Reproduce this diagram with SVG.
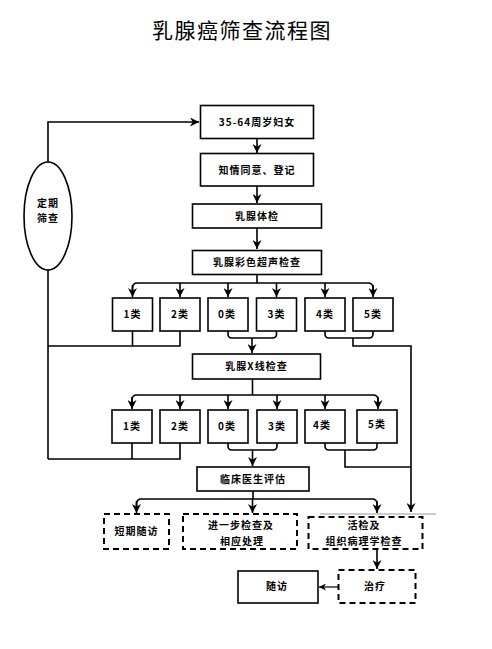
<svg xmlns="http://www.w3.org/2000/svg" width="492" height="649" viewBox="0 0 492 649">
<style>
.box{fill:#fff;stroke:#000;stroke-width:1.6}
.dbox{fill:#fff;stroke:#000;stroke-width:2;stroke-dasharray:6 4}
.t{font-family:"Noto Sans CJK SC","Noto Sans",sans-serif;font-size:10px;font-weight:bold;fill:#000;text-anchor:middle;letter-spacing:1px}
.title{font-family:"Noto Sans CJK SC","Noto Sans",sans-serif;font-size:21px;fill:#000;text-anchor:middle;letter-spacing:1.5px}
.c{fill:none;stroke:#000;stroke-width:1.6}
.a{fill:none;stroke:#000;stroke-width:1.6;marker-end:url(#ar)}
</style>
<defs>
<marker id="ar" viewBox="0 0 10 10" refX="10" refY="5" markerWidth="9" markerHeight="9" markerUnits="userSpaceOnUse" orient="auto">
<path d="M0,0 L10,5 L0,10 L3,5 z" fill="#000"/>
</marker>
<marker id="ars" viewBox="0 0 10 10" refX="10" refY="5" markerWidth="7" markerHeight="7" markerUnits="userSpaceOnUse" orient="auto">
<path d="M0,0 L10,5 L0,10 L3,5 z" fill="#000"/>
</marker>
</defs>
<rect width="492" height="649" fill="#fff"/>
<text class="title" x="242" y="38">乳腺癌筛查流程图</text>

<g id="connectors">
<path class="a" d="M48,162 V122 H199"/>
<path class="a" d="M257,138 V153"/>
<path class="a" d="M257,186 V203"/>
<path class="a" d="M257,228 V249"/>
<path class="c" d="M257,274 V283"/>
<path class="c" d="M132.5,292 V288 Q132.5,283 137.5,283 H368 Q373,283 373,288 V292"/>
<path class="a" d="M132.5,285 V297"/>
<path class="a" d="M180,283 V297"/>
<path class="a" d="M228,283 V297"/>
<path class="a" d="M276.5,283 V297"/>
<path class="a" d="M325,283 V297"/>
<path class="a" d="M373,285 V297"/>
<path class="c" d="M132.5,331 V346"/>
<path class="c" d="M180,331 V346 H48"/>
<path class="c" d="M48,270 V459"/>
<path class="c" d="M228,331 V334 Q228,338 232,338 H272.5 Q276.5,338 276.5,334 V331"/>
<path class="a" d="M252,338 V353"/>
<path class="c" d="M325,331 V334 Q325,338 329,338 H369 Q373,338 373,334 V331"/>
<path class="a" d="M353,338 V346 H411 V512"/>
<path class="c" d="M252.5,379 V395"/>
<path class="c" d="M132,404 V400 Q132,395 137,395 H373 Q378,395 378,400 V404"/>
<path class="a" d="M132,397 V409"/>
<path class="a" d="M180,395 V409"/>
<path class="a" d="M228,395 V409"/>
<path class="a" d="M277,395 V409"/>
<path class="a" d="M325,395 V409"/>
<path class="a" d="M378,397 V409"/>
<path class="c" d="M132,443 V459"/>
<path class="c" d="M180,443 V459 H48"/>
<path class="c" d="M228,443 V446 Q228,450 232,450 H273 Q277,450 277,446 V443"/>
<path class="a" d="M252.5,450 V466"/>
<path class="c" d="M325,443 V446 Q325,450 329,450 H373 Q377,450 377,446 V443"/>
<path class="c" d="M345,450 V467 H411"/>
<path class="c" d="M253,491 V499"/>
<path class="c" d="M136.5,508 V504 Q136.5,499 141.5,499 H372 Q377,499 377,504 V508"/>
<path class="a" d="M136.5,501 V513"/>
<path class="a" d="M252.5,499 V513"/>
<path class="a" d="M377,501 V513"/>
<path d="M320,514 H436" stroke="#999" stroke-width="1" fill="none"/>
<path class="a" d="M377,549 V569"/>
<path d="M338,587 H319" stroke="#000" stroke-width="1.2" fill="none" marker-end="url(#ars)"/>
</g>

<g id="n-start"><rect class="box" x="200.5" y="105.5" width="113" height="33"/><text class="t" x="257" y="126">35-64周岁妇女</text></g>
<g id="n-consent"><rect class="box" x="200.5" y="153.5" width="113" height="32.5"/><text class="t" x="257" y="174">知情同意、登记</text></g>
<g id="n-exam"><rect class="box" x="192.5" y="204" width="129" height="24"/><text class="t" x="257" y="220">乳腺体检</text></g>
<g id="n-us"><rect class="box" x="192.5" y="250.5" width="129" height="24"/><text class="t" x="257" y="266">乳腺彩色超声检查</text></g>
<g id="n-periodic"><ellipse class="box" cx="48" cy="216" rx="24" ry="54"/><text class="t" x="48" y="207">定期</text><text class="t" x="48" y="222">筛查</text></g>

<g id="u1"><rect class="box" x="112.5" y="298" width="40" height="33"/><text class="t" x="132.5" y="318">1类</text></g>
<g id="u2"><rect class="box" x="160" y="298" width="40" height="33"/><text class="t" x="180" y="318">2类</text></g>
<g id="u0"><rect class="box" x="208" y="298" width="40" height="33"/><text class="t" x="227" y="318">0类</text></g>
<g id="u3"><rect class="box" x="256.5" y="298" width="40" height="33"/><text class="t" x="276.5" y="318">3类</text></g>
<g id="u4"><rect class="box" x="305" y="298" width="40" height="33"/><text class="t" x="325" y="318">4类</text></g>
<g id="u5"><rect class="box" x="353" y="298" width="40" height="33"/><text class="t" x="373" y="318">5类</text></g>

<g id="n-xray"><rect class="box" x="192.5" y="354" width="128" height="25"/><text class="t" x="256.5" y="370">乳腺X线检查</text></g>

<g id="m1"><rect class="box" x="112" y="410" width="40" height="33"/><text class="t" x="132" y="430">1类</text></g>
<g id="m2"><rect class="box" x="160" y="410" width="40" height="33"/><text class="t" x="180" y="430">2类</text></g>
<g id="m0"><rect class="box" x="208" y="410" width="40" height="33"/><text class="t" x="227" y="430">0类</text></g>
<g id="m3"><rect class="box" x="257" y="410" width="40" height="33"/><text class="t" x="277" y="430">3类</text></g>
<g id="m4"><rect class="box" x="305" y="410" width="40" height="33"/><text class="t" x="322" y="429">4类</text></g>
<g id="m5"><rect class="box" x="357" y="410" width="40" height="33"/><text class="t" x="377" y="428">5类</text></g>

<g id="n-clinic"><rect class="box" x="197" y="467" width="112" height="24"/><text class="t" x="253" y="483">临床医生评估</text></g>

<g id="n-short"><rect class="dbox" x="104" y="514" width="65" height="35"/><text class="t" x="136.5" y="535">短期随访</text></g>
<g id="n-further"><rect class="dbox" x="183" y="514" width="114" height="35"/><text class="t" x="241" y="529">进一步检查及</text><text class="t" x="242" y="545">相应处理</text></g>
<g id="n-biopsy"><rect class="dbox" x="308.5" y="517" width="114" height="32"/><text class="t" x="364" y="529">活检及</text><text class="t" x="364" y="545">组织病理学检查</text></g>
<g id="n-treat"><rect class="dbox" x="338.5" y="570" width="77" height="33"/><text class="t" x="375" y="590">治疗</text></g>
<g id="n-follow"><rect class="box" x="238" y="571" width="80" height="32"/><text class="t" x="277" y="590">随访</text></g>
</svg>
